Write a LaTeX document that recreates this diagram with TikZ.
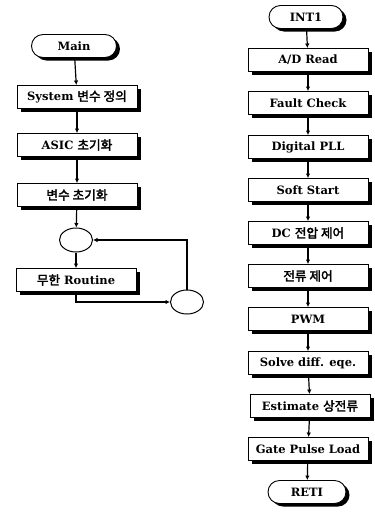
\documentclass[tikz,border=0pt]{standalone}
\usepackage{fontspec}
\setmainfont{DejaVu Serif}
\newfontfamily\kr{Noto Sans CJK KR}[AutoFakeBold=2.5, Scale=1.1]
\usetikzlibrary{shapes.misc, shapes.geometric, shadows, arrows.meta}

\tikzset{
  stepbox/.style={rectangle, draw, fill=white, line width=0.9pt,
    minimum width=120pt, minimum height=23pt, inner sep=1pt,
    font=\bfseries\fontsize{11.5}{13}\selectfont,
    drop shadow={shadow xshift=3.5pt, shadow yshift=-3pt, fill=black, opacity=1}},
  termbox/.style={stepbox, rounded rectangle, minimum width=80pt},
  joint/.style={ellipse, draw, line width=1pt, minimum width=33pt,
    minimum height=24pt, inner sep=0pt},
  flow/.style={line width=1.2pt, -{Latex[length=4.5pt, width=4.5pt]}}
}

\begin{document}
\begin{tikzpicture}[x=1pt, y=-1pt]
    \useasboundingbox (0, 0) rectangle (375, 517);

    % main loop
    \node[termbox, minimum width=87pt] (main) at (74, 46) {Main};
    \node[stepbox] (sys) at (77, 97) {System {\kr 변수 정의}};
    \node[stepbox] (asic) at (77, 145) {ASIC {\kr 초기화}};
    \node[stepbox] (var) at (77, 195) {{\kr 변수 초기화}};
    \node[joint] (c1) at (76, 240) {};
    \node[stepbox] (loop) at (76, 280) {{\kr 무한} Routine};
    \node[joint] (c2) at (187, 302) {};

    \draw[flow] (main) -- (sys);
    \draw[flow] (sys) -- (asic);
    \draw[flow] (asic) -- (var);
    \draw[flow] (var) -- (c1);
    \draw[flow] (c1) -- (loop);
    \draw[flow] (loop.south) |- (c2);
    \draw[flow] (c2) |- (c1);

    % interrupt routine
    \node[termbox, minimum width=76pt] (int) at (306, 17) {INT1};
    \node[stepbox] (r1) at (308, 60) {A/D Read};
    \node[stepbox] (r2) at (308, 103) {Fault Check};
    \node[stepbox] (r3) at (308, 147) {Digital PLL};
    \node[stepbox] (r4) at (308, 190) {Soft Start};
    \node[stepbox] (r5) at (308, 233) {DC {\kr 전압 제어}};
    \node[stepbox] (r6) at (308, 276) {{\kr 전류 제어}};
    \node[stepbox] (r7) at (308, 319) {PWM};
    \node[stepbox] (r8) at (308, 363) {Solve diff. eqe.};
    \node[stepbox] (r9) at (310, 406) {Estimate {\kr 상전류}};
    \node[stepbox] (r10) at (308, 449) {Gate Pulse Load};
    \node[termbox] (reti) at (307, 492) {RETI};

    \draw[flow] (int) -- (r1);
    \draw[flow] (r1) -- (r2);
    \draw[flow] (r2) -- (r3);
    \draw[flow] (r3) -- (r4);
    \draw[flow] (r4) -- (r5);
    \draw[flow] (r5) -- (r6);
    \draw[flow] (r6) -- (r7);
    \draw[flow] (r7) -- (r8);
    \draw[flow] (r8) -- (r9);
    \draw[flow] (r9) -- (r10);
    \draw[flow] (r10) -- (reti);
\end{tikzpicture}
\end{document}
